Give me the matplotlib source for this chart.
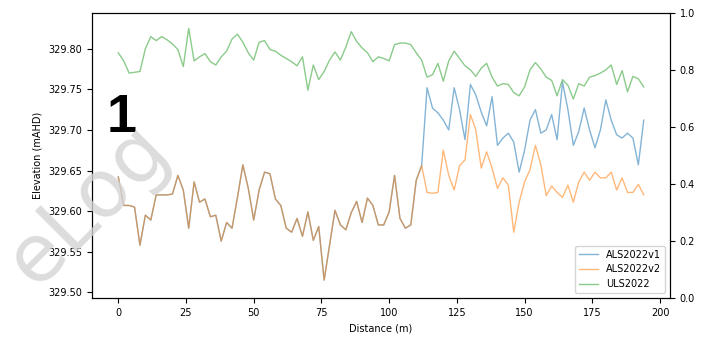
import matplotlib
matplotlib.use("Agg")
import matplotlib.pyplot as plt
from matplotlib.ticker import FormatStrFormatter

# distance along the transect (m)
distance = [0, 2, 4, 6, 8, 10, 12, 14, 16, 18, 20, 22, 24, 26, 28, 30, 32, 34, 36, 38,
            40, 42, 44, 46, 48, 50, 52, 54, 56, 58, 60, 62, 64, 66, 68, 70, 72, 74, 76, 78,
            80, 82, 84, 86, 88, 90, 92, 94, 96, 98, 100, 102, 104, 106, 108, 110, 112, 114,
            116, 118, 120, 122, 124, 126, 128, 130, 132, 134, 136, 138, 140, 142, 144, 146,
            148, 150, 152, 154, 156, 158, 160, 162, 164, 166, 168, 170, 172, 174, 176, 178,
            180, 182, 184, 186, 188, 190, 192, 194]

# elevations (mAHD)
als_v1 = [329.642, 329.607, 329.607, 329.605, 329.558, 329.595, 329.589, 329.620, 329.620, 329.620,
          329.621, 329.644, 329.626, 329.579, 329.636, 329.611, 329.615, 329.593, 329.595, 329.563,
          329.586, 329.579, 329.617, 329.657, 329.628, 329.589, 329.626, 329.648, 329.646, 329.615,
          329.607, 329.579, 329.574, 329.591, 329.569, 329.599, 329.564, 329.581, 329.515, 329.558,
          329.601, 329.583, 329.577, 329.598, 329.612, 329.586, 329.616, 329.607, 329.583, 329.583,
          329.599, 329.644, 329.591, 329.579, 329.583, 329.638, 329.656, 329.752, 329.727, 329.721,
          329.712, 329.700, 329.752, 329.725, 329.688, 329.756, 329.743, 329.722, 329.705, 329.741,
          329.681, 329.690, 329.696, 329.685, 329.648, 329.675, 329.712, 329.725, 329.696, 329.700,
          329.719, 329.688, 329.759, 329.725, 329.681, 329.698, 329.727, 329.700, 329.678, 329.700,
          329.737, 329.712, 329.694, 329.690, 329.696, 329.690, 329.657, 329.712]

als_v2 = [329.642, 329.607, 329.607, 329.605, 329.558, 329.595, 329.589, 329.620, 329.620, 329.620,
          329.621, 329.644, 329.626, 329.579, 329.636, 329.611, 329.615, 329.593, 329.595, 329.563,
          329.586, 329.579, 329.617, 329.657, 329.628, 329.589, 329.626, 329.648, 329.646, 329.615,
          329.607, 329.579, 329.574, 329.591, 329.569, 329.599, 329.564, 329.581, 329.515, 329.558,
          329.601, 329.583, 329.577, 329.598, 329.612, 329.586, 329.616, 329.607, 329.583, 329.583,
          329.599, 329.644, 329.591, 329.579, 329.583, 329.638, 329.656, 329.623, 329.622, 329.623,
          329.675, 329.644, 329.626, 329.656, 329.663, 329.719, 329.700, 329.653, 329.673, 329.653,
          329.628, 329.641, 329.632, 329.574, 329.611, 329.636, 329.651, 329.681, 329.657, 329.619,
          329.631, 329.623, 329.617, 329.632, 329.611, 329.636, 329.648, 329.638, 329.648, 329.641,
          329.641, 329.648, 329.626, 329.641, 329.623, 329.623, 329.633, 329.620]

uls = [329.795, 329.785, 329.770, 329.771, 329.772, 329.800, 329.815, 329.810, 329.815, 329.811,
       329.806, 329.799, 329.778, 329.825, 329.785, 329.790, 329.794, 329.784, 329.780, 329.790,
       329.797, 329.812, 329.818, 329.808, 329.795, 329.786, 329.808, 329.810, 329.799, 329.797,
       329.792, 329.788, 329.784, 329.779, 329.790, 329.749, 329.780, 329.762, 329.772, 329.786,
       329.796, 329.786, 329.802, 329.821, 329.809, 329.801, 329.795, 329.784, 329.790, 329.788,
       329.785, 329.805, 329.807, 329.807, 329.805, 329.795, 329.786, 329.765, 329.768, 329.782,
       329.760, 329.785, 329.797, 329.788, 329.779, 329.774, 329.766, 329.776, 329.782, 329.765,
       329.754, 329.757, 329.756, 329.746, 329.742, 329.753, 329.774, 329.783, 329.775, 329.765,
       329.761, 329.742, 329.762, 329.755, 329.738, 329.757, 329.754, 329.765, 329.767, 329.770,
       329.774, 329.780, 329.756, 329.773, 329.747, 329.766, 329.763, 329.753]

fig = plt.figure(figsize=(7.05, 3.37), dpi=100)
ax = fig.add_axes([0.1305, 0.1157, 0.8199, 0.8457])

ax.plot(distance, als_v1, color='tab:blue', lw=1, alpha=0.55, label='ALS2022v1')
ax.plot(distance, als_v2, color='tab:orange', lw=1, alpha=0.55, label='ALS2022v2')
ax.plot(distance, uls, color='tab:green', lw=1, alpha=0.55, label='ULS2022')

ax.set_xlim(-9.7, 203.7)
ax.set_ylim(329.493, 329.844)
ax.yaxis.set_major_formatter(FormatStrFormatter('%.2f'))
ax.tick_params(labelsize=7)
ax.set_xlabel('Distance (m)', fontsize=7)
ax.set_ylabel('Elevation (mAHD)', fontsize=7)
ax.legend(loc='lower right', fontsize=7)

# empty twin axis on the right (0-1)
ax2 = ax.twinx()
ax2.tick_params(labelsize=7)

# overlays seen on the picture
fig.text(107 / 705, 1 - 132 / 337, '1', fontsize=39, fontweight='bold',
         family='Liberation Sans', color='black')
fig.text(88 / 705, 1 - 205 / 337, 'eLog', fontsize=58, color='#d4d4d4', alpha=0.8,
         rotation=45, ha='center', va='center', rotation_mode='anchor')

plt.savefig('out.png', dpi=100)
